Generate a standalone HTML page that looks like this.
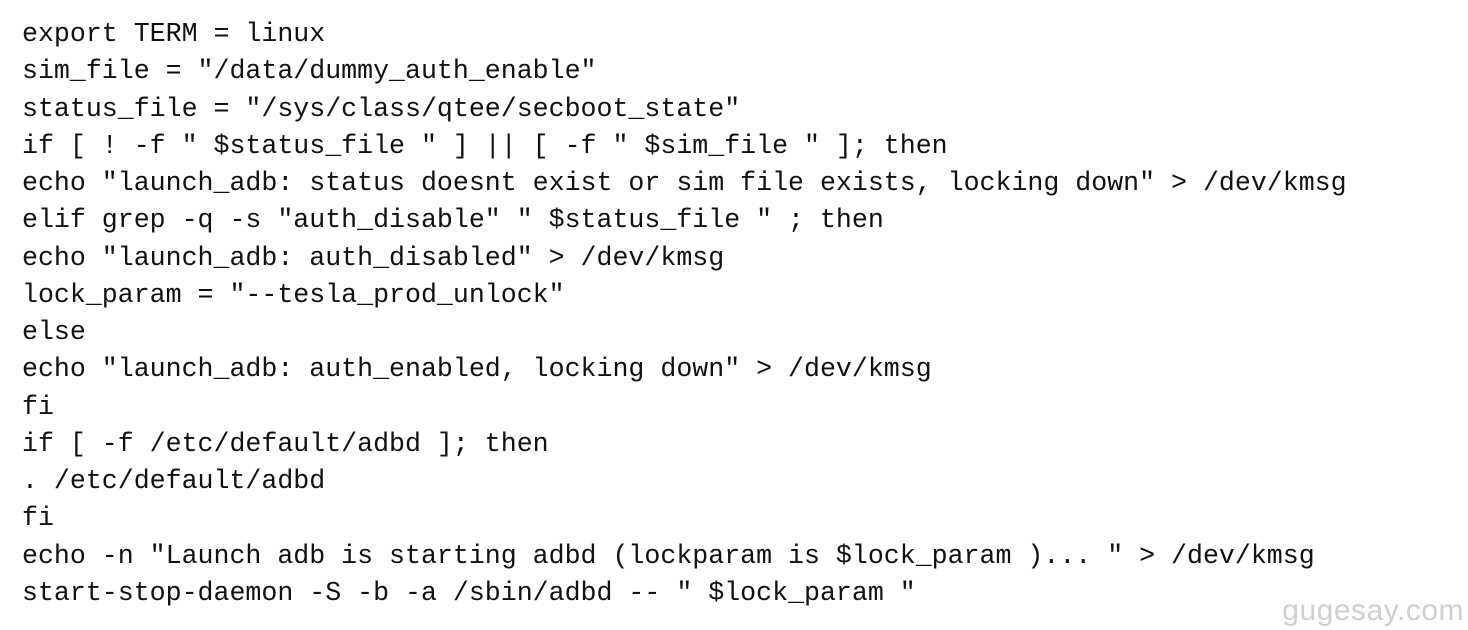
<!DOCTYPE html>
<html><head><meta charset="utf-8"><style>
html,body{margin:0;padding:0;background:#fff;width:1468px;height:630px;overflow:hidden;position:relative}
pre{position:absolute;left:22px;top:16px;margin:0;font-family:"Liberation Mono",monospace;font-size:26.6px;line-height:37.27px;color:#111;white-space:pre}
.wm{position:absolute;right:4px;top:594px;font-family:"Liberation Sans",sans-serif;font-size:30px;color:#d0d0d0;letter-spacing:0.5px}
</style></head><body>
<pre>export TERM = linux
sim_file = "/data/dummy_auth_enable"
status_file = "/sys/class/qtee/secboot_state"
if [ ! -f " $status_file " ] || [ -f " $sim_file " ]; then
echo "launch_adb: status doesnt exist or sim file exists, locking down" &gt; /dev/kmsg
elif grep -q -s "auth_disable" " $status_file " ; then
echo "launch_adb: auth_disabled" &gt; /dev/kmsg
lock_param = "--tesla_prod_unlock"
else
echo "launch_adb: auth_enabled, locking down" &gt; /dev/kmsg
fi
if [ -f /etc/default/adbd ]; then
. /etc/default/adbd
fi
echo -n "Launch adb is starting adbd (lockparam is $lock_param )... " &gt; /dev/kmsg
start-stop-daemon -S -b -a /sbin/adbd -- " $lock_param "</pre>
<div class="wm">gugesay.com</div>
</body></html>
